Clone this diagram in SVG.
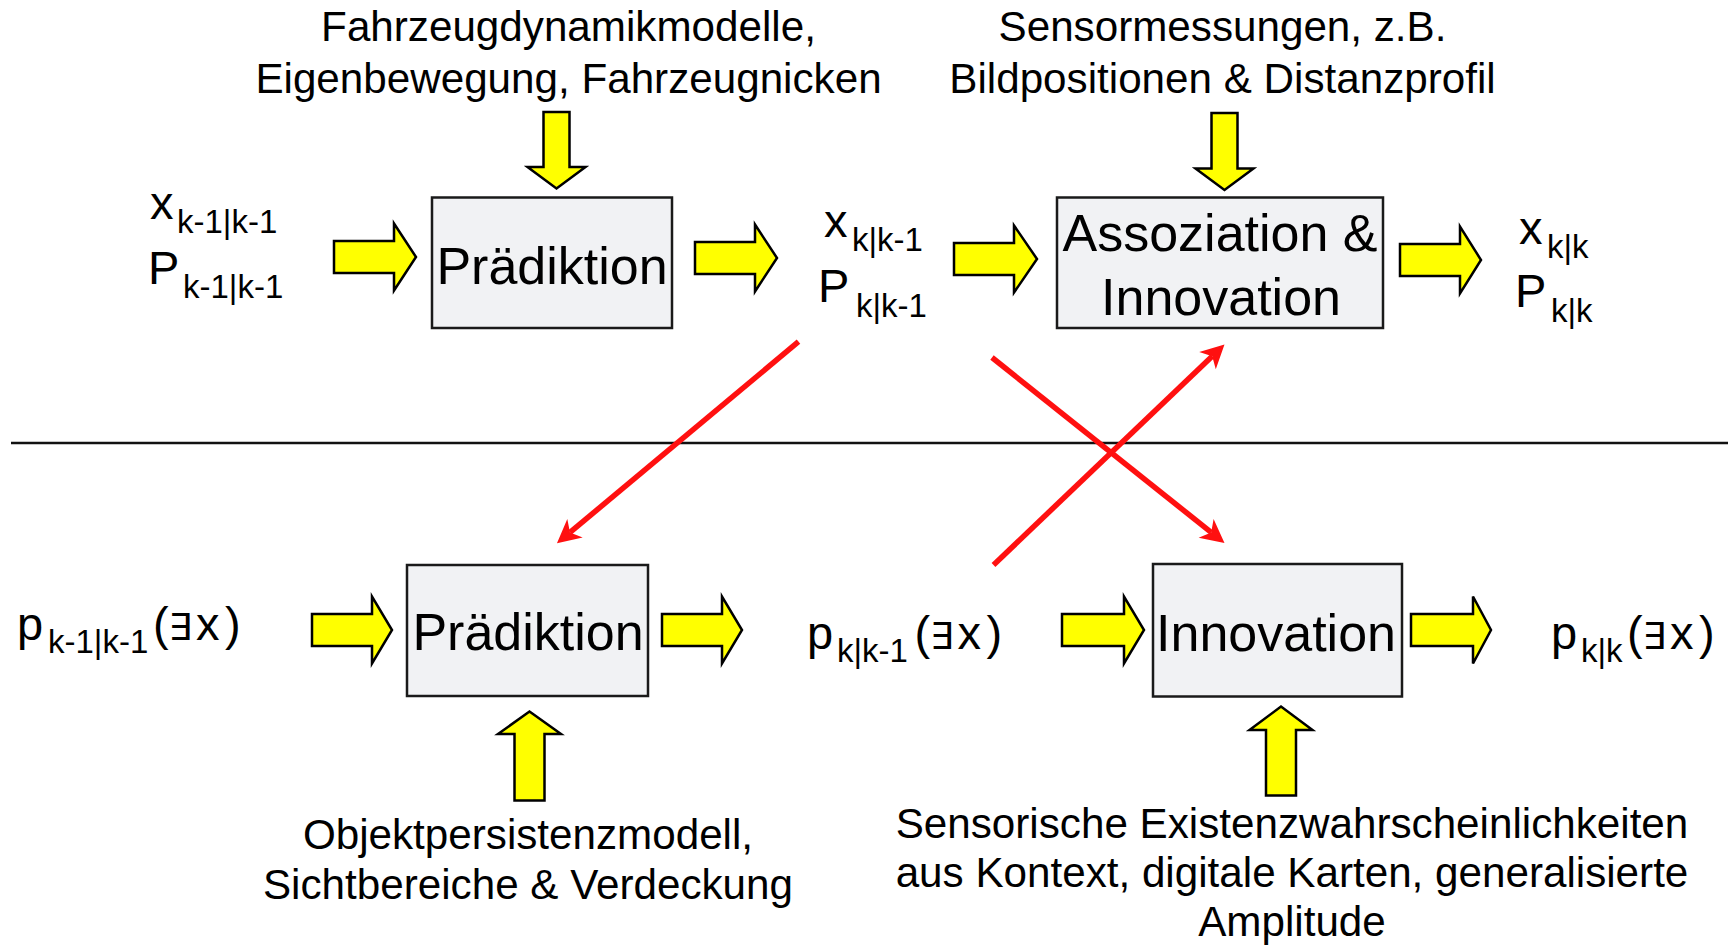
<svg xmlns="http://www.w3.org/2000/svg" width="1728" height="949" viewBox="0 0 1728 949">
  <style>
    text { font-family: "Liberation Sans", Arial, sans-serif; fill: #000; }
    .note { font-size: 42.2px; text-anchor: middle; }
    .box { fill: #f1f2f4; stroke: #1a1a1a; stroke-width: 2.5; }
    .boxlabel { font-size: 52px; text-anchor: middle; }
    .var { font-size: 47px; }
    .sub { font-size: 33px; }
    .ex { font-family: "DejaVu Sans", sans-serif; font-size: 37px; }
    .flow { fill: #ffff00; stroke: #000; stroke-width: 2.5; stroke-linejoin: miter; }
    .link { stroke: #ff1010; stroke-width: 5.5; fill: none; }
    .divider { stroke: #111; stroke-width: 2.5; }
  </style>
  <defs>
    <marker id="redhead" markerUnits="userSpaceOnUse" viewBox="-10 -15 30 30" markerWidth="30" markerHeight="30" refX="0" refY="0" orient="auto" overflow="visible">
      <path d="M17,0 L-6.5,-12 L0,0 L-6.5,12 Z" fill="#ff1010"/>
    </marker>
  </defs>

  <rect width="1728" height="949" fill="#fff"/>

  <!-- separator between state estimation (top) and existence estimation (bottom) -->
  <line class="divider" x1="11" y1="443" x2="1728" y2="443"/>

  <!-- input annotations -->
  <g id="note-dynamics">
    <text class="note" x="568.5" y="41">Fahrzeugdynamikmodelle,</text>
    <text class="note" x="568.5" y="93">Eigenbewegung, Fahrzeugnicken</text>
  </g>
  <g id="note-sensors">
    <text class="note" x="1222.5" y="41">Sensormessungen, z.B.</text>
    <text class="note" x="1222.5" y="93">Bildpositionen &amp; Distanzprofil</text>
  </g>
  <g id="note-persistence">
    <text class="note" x="528" y="849">Objektpersistenzmodell,</text>
    <text class="note" x="528" y="899">Sichtbereiche &amp; Verdeckung</text>
  </g>
  <g id="note-existence">
    <text class="note" x="1292" y="838">Sensorische Existenzwahrscheinlichkeiten</text>
    <text class="note" x="1292" y="887">aus Kontext, digitale Karten, generalisierte</text>
    <text class="note" x="1292" y="936">Amplitude</text>
  </g>

  <!-- state variables -->
  <g id="state-prior">
    <text class="var" x="150" y="219">x<tspan class="sub" x="177" y="233">k-1|k-1</tspan></text>
    <text class="var" x="148" y="284">P<tspan class="sub" x="183" y="298">k-1|k-1</tspan></text>
  </g>
  <g id="state-predicted">
    <text class="var" x="824" y="237">x<tspan class="sub" x="852" y="251">k|k-1</tspan></text>
    <text class="var" x="818" y="302">P<tspan class="sub" x="856" y="317">k|k-1</tspan></text>
  </g>
  <g id="state-posterior">
    <text class="var" x="1519" y="244">x<tspan class="sub" x="1547" y="258">k|k</tspan></text>
    <text class="var" x="1515" y="307">P<tspan class="sub" x="1551" y="322">k|k</tspan></text>
  </g>

  <!-- existence probabilities -->
  <g id="exist-prior">
    <text class="var" x="17" y="640">p<tspan class="sub" x="48" y="653">k-1|k-1</tspan><tspan x="153" y="640">(</tspan><tspan class="ex" x="168.5" y="640">∃</tspan><tspan x="196" y="640">x</tspan><tspan x="225" y="640">)</tspan></text>
  </g>
  <g id="exist-predicted">
    <text class="var" x="807" y="649">p<tspan class="sub" x="837" y="662">k|k-1</tspan><tspan x="914.5" y="649">(</tspan><tspan class="ex" x="930" y="649">∃</tspan><tspan x="957.5" y="649">x</tspan><tspan x="986.5" y="649">)</tspan></text>
  </g>
  <g id="exist-posterior">
    <text class="var" x="1551" y="649">p<tspan class="sub" x="1581" y="662">k|k</tspan><tspan x="1627" y="649">(</tspan><tspan class="ex" x="1642.5" y="649">∃</tspan><tspan x="1670" y="649">x</tspan><tspan x="1699" y="649">)</tspan></text>
  </g>

  <!-- processing blocks -->
  <g id="prediction-state">
    <rect class="box" x="432" y="197.5" width="240" height="130.5"/>
    <text class="boxlabel" x="552" y="284">Prädiktion</text>
  </g>
  <g id="association-innovation">
    <rect class="box" x="1057" y="197.5" width="326" height="130.5"/>
    <text class="boxlabel" x="1220" y="251">Assoziation &amp;</text>
    <text class="boxlabel" x="1221" y="315">Innovation</text>
  </g>
  <g id="prediction-existence">
    <rect class="box" x="407" y="565" width="241" height="131"/>
    <text class="boxlabel" x="528" y="650">Prädiktion</text>
  </g>
  <g id="innovation-existence">
    <rect class="box" x="1153" y="564" width="249" height="132.5"/>
    <text class="boxlabel" x="1276" y="651">Innovation</text>
  </g>

  <!-- connectors -->
  <g id="connectors">
    <!-- block arrows along the top chain -->
    <polygon class="flow" points="334,241 394,241 394,223.5 416,257 394,290.5 394,273 334,273"/>
    <polygon class="flow" points="695,242 755,242 755,224.5 777,258 755,291.5 755,274 695,274"/>
    <polygon class="flow" points="954,243 1014,243 1014,225.5 1037,259 1014,292.5 1014,275 954,275"/>
    <polygon class="flow" points="1400,244 1460,244 1460,226.5 1481,260 1460,293.5 1460,276 1400,276"/>
    <!-- block arrows along the bottom chain -->
    <polygon class="flow" points="312,614 372,614 372,596.5 392,630 372,663.5 372,646 312,646"/>
    <polygon class="flow" points="662,614 722,614 722,596.5 742,630 722,663.5 722,646 662,646"/>
    <polygon class="flow" points="1062,614 1124,614 1124,596.5 1144,630 1124,663.5 1124,646 1062,646"/>
    <polygon class="flow" points="1411,614 1473,614 1473,596.5 1491,630 1473,663.5 1473,646 1411,646"/>
    <!-- model / measurement inputs -->
    <polygon class="flow" points="543.5,112 569.5,112 569.5,167 585.5,167 556.5,188.5 527.5,167 543.5,167"/>
    <polygon class="flow" points="1211.5,113 1237.5,113 1237.5,168.5 1253.5,168.5 1224.5,190 1195.5,168.5 1211.5,168.5"/>
    <polygon class="flow" points="514.5,800.5 544.5,800.5 544.5,734 561,734 529.5,711.5 498,734 514.5,734"/>
    <polygon class="flow" points="1266,795.5 1296,795.5 1296,730 1312.5,730 1281,706.5 1249.5,730 1266,730"/>
    <!-- coupling between state and existence estimation -->
    <line class="link" x1="798.5" y1="341.7" x2="570" y2="532.4" marker-end="url(#redhead)"/>
    <line class="link" x1="992" y1="357.5" x2="1211.2" y2="532.4" marker-end="url(#redhead)"/>
    <line class="link" x1="993.5" y1="565" x2="1212.2" y2="356.2" marker-end="url(#redhead)"/>
  </g>
</svg>
